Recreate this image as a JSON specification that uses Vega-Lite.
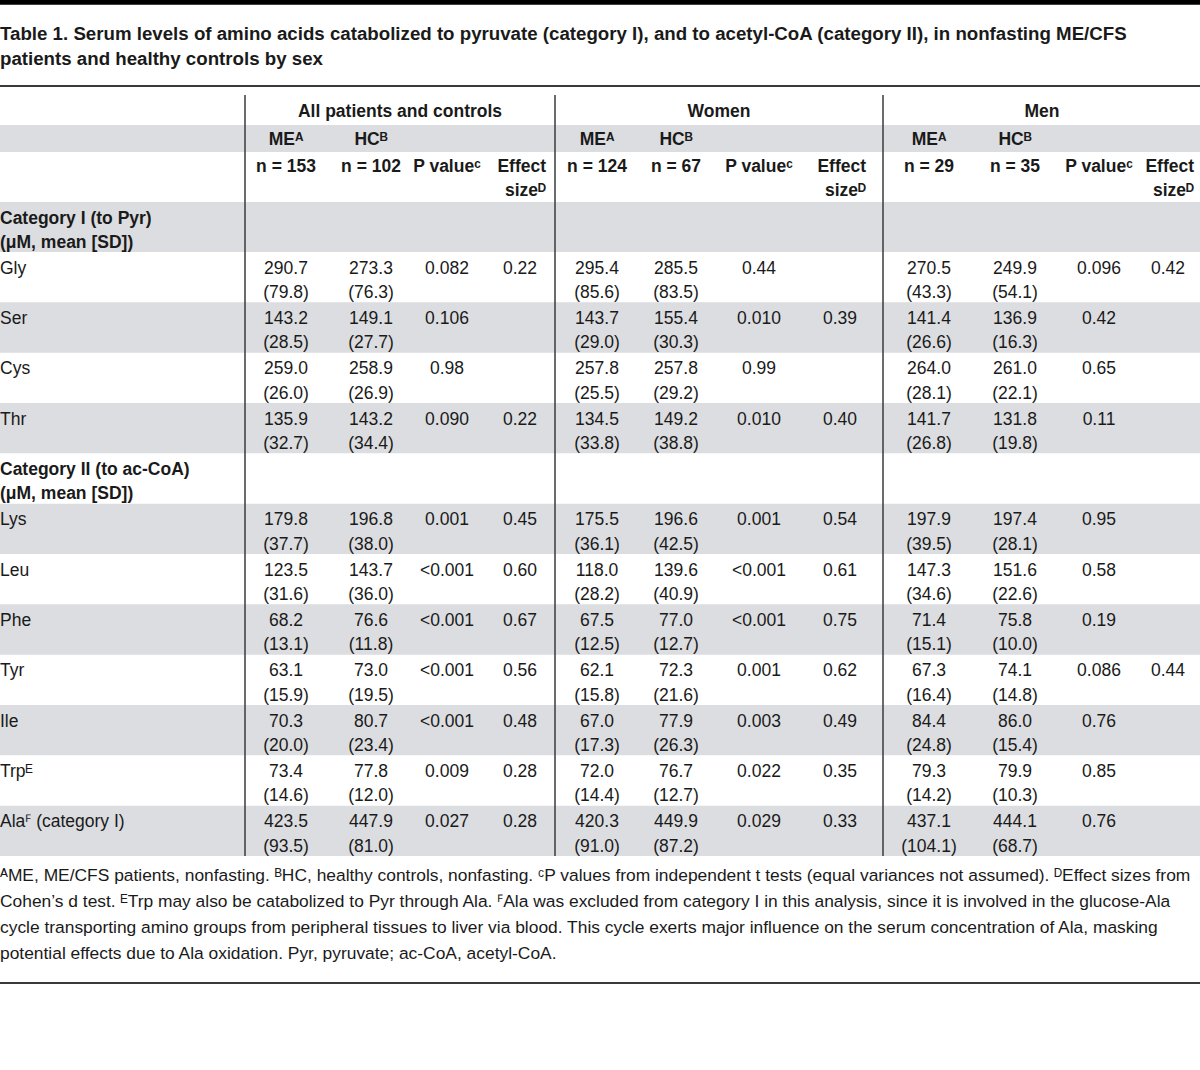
{
  "$schema": "https://vega.github.io/schema/vega-lite/v6.json",
  "width": 1200,
  "height": 1070,
  "autosize": "none",
  "padding": 0,
  "background": "white",
  "config": {"view": {"stroke": null}, "text": {"font": "Liberation Sans", "color": "#1a1a1a", "lineBreak": "\n"}},
  "datasets": {
    "bands": [{"r": 2, "r2": 3}, {"r": 4, "r2": 5}, {"r": 6, "r2": 7}, {"r": 8, "r2": 9}, {"r": 10, "r2": 11}, {"r": 12, "r2": 13}, {"r": 14, "r2": 15}, {"r": 16, "r2": 17}],
    "hrules": [{"r": 1}, {"r": 18}],
    "vrules": [{"c": 0.5}, {"c": 4.5}, {"c": 8.5}],
    "title": [{"t": "Table 1. Serum levels of amino acids catabolized to pyruvate (category I), and to acetyl-CoA (category II), in nonfasting ME/CFS\npatients and healthy controls by sex"}],
    "groups": [{"c": 2.5, "t": "All patients and controls"}, {"c": 6.5, "t": "Women"}, {"c": 10.5, "t": "Men"}],
    "subheads": [
      {"r": 2, "c": 1, "t": "MEᴬ"}, {"r": 2, "c": 2, "t": "HCᴮ"},
      {"r": 2, "c": 5, "t": "MEᴬ"}, {"r": 2, "c": 6, "t": "HCᴮ"},
      {"r": 2, "c": 9, "t": "MEᴬ"}, {"r": 2, "c": 10, "t": "HCᴮ"},
      {"r": 3, "c": 1, "t": "n = 153"}, {"r": 3, "c": 2, "t": "n = 102"}, {"r": 3, "c": 3, "t": "P valueᶜ"},
      {"r": 3, "c": 5, "t": "n = 124"}, {"r": 3, "c": 6, "t": "n = 67"}, {"r": 3, "c": 7, "t": "P valueᶜ"},
      {"r": 3, "c": 9, "t": "n = 29"}, {"r": 3, "c": 10, "t": "n = 35"}, {"r": 3, "c": 11, "t": "P valueᶜ"}
    ],
    "effects": [{"r": 3, "c": 4, "t": "Effect\nsizeᴰ"}, {"r": 3, "c": 8, "t": "Effect\nsizeᴰ"}, {"r": 3, "c": 12, "t": "Effect\nsizeᴰ"}],
    "categories": [{"r": 4, "t": "Category I (to Pyr)\n(μM, mean [SD])"}, {"r": 9, "t": "Category II (to ac-CoA)\n(μM, mean [SD])"}],
    "labels": [
      {"r": 5, "t": "Gly"}, {"r": 6, "t": "Ser"}, {"r": 7, "t": "Cys"}, {"r": 8, "t": "Thr"},
      {"r": 10, "t": "Lys"}, {"r": 11, "t": "Leu"}, {"r": 12, "t": "Phe"}, {"r": 13, "t": "Tyr"},
      {"r": 14, "t": "Ile"}, {"r": 15, "t": "Trpᴱ"}, {"r": 16, "t": "Alaꟳ (category I)"}
    ],
    "cells": [
      {"r": 5, "c": 1, "t": "290.7\n(79.8)"}, {"r": 5, "c": 2, "t": "273.3\n(76.3)"}, {"r": 5, "c": 3, "t": "0.082"}, {"r": 5, "c": 4, "t": "0.22"},
      {"r": 5, "c": 5, "t": "295.4\n(85.6)"}, {"r": 5, "c": 6, "t": "285.5\n(83.5)"}, {"r": 5, "c": 7, "t": "0.44"},
      {"r": 5, "c": 9, "t": "270.5\n(43.3)"}, {"r": 5, "c": 10, "t": "249.9\n(54.1)"}, {"r": 5, "c": 11, "t": "0.096"}, {"r": 5, "c": 12, "t": "0.42"},
      {"r": 6, "c": 1, "t": "143.2\n(28.5)"}, {"r": 6, "c": 2, "t": "149.1\n(27.7)"}, {"r": 6, "c": 3, "t": "0.106"},
      {"r": 6, "c": 5, "t": "143.7\n(29.0)"}, {"r": 6, "c": 6, "t": "155.4\n(30.3)"}, {"r": 6, "c": 7, "t": "0.010"}, {"r": 6, "c": 8, "t": "0.39"},
      {"r": 6, "c": 9, "t": "141.4\n(26.6)"}, {"r": 6, "c": 10, "t": "136.9\n(16.3)"}, {"r": 6, "c": 11, "t": "0.42"},
      {"r": 7, "c": 1, "t": "259.0\n(26.0)"}, {"r": 7, "c": 2, "t": "258.9\n(26.9)"}, {"r": 7, "c": 3, "t": "0.98"},
      {"r": 7, "c": 5, "t": "257.8\n(25.5)"}, {"r": 7, "c": 6, "t": "257.8\n(29.2)"}, {"r": 7, "c": 7, "t": "0.99"},
      {"r": 7, "c": 9, "t": "264.0\n(28.1)"}, {"r": 7, "c": 10, "t": "261.0\n(22.1)"}, {"r": 7, "c": 11, "t": "0.65"},
      {"r": 8, "c": 1, "t": "135.9\n(32.7)"}, {"r": 8, "c": 2, "t": "143.2\n(34.4)"}, {"r": 8, "c": 3, "t": "0.090"}, {"r": 8, "c": 4, "t": "0.22"},
      {"r": 8, "c": 5, "t": "134.5\n(33.8)"}, {"r": 8, "c": 6, "t": "149.2\n(38.8)"}, {"r": 8, "c": 7, "t": "0.010"}, {"r": 8, "c": 8, "t": "0.40"},
      {"r": 8, "c": 9, "t": "141.7\n(26.8)"}, {"r": 8, "c": 10, "t": "131.8\n(19.8)"}, {"r": 8, "c": 11, "t": "0.11"},
      {"r": 10, "c": 1, "t": "179.8\n(37.7)"}, {"r": 10, "c": 2, "t": "196.8\n(38.0)"}, {"r": 10, "c": 3, "t": "0.001"}, {"r": 10, "c": 4, "t": "0.45"},
      {"r": 10, "c": 5, "t": "175.5\n(36.1)"}, {"r": 10, "c": 6, "t": "196.6\n(42.5)"}, {"r": 10, "c": 7, "t": "0.001"}, {"r": 10, "c": 8, "t": "0.54"},
      {"r": 10, "c": 9, "t": "197.9\n(39.5)"}, {"r": 10, "c": 10, "t": "197.4\n(28.1)"}, {"r": 10, "c": 11, "t": "0.95"},
      {"r": 11, "c": 1, "t": "123.5\n(31.6)"}, {"r": 11, "c": 2, "t": "143.7\n(36.0)"}, {"r": 11, "c": 3, "t": "<0.001"}, {"r": 11, "c": 4, "t": "0.60"},
      {"r": 11, "c": 5, "t": "118.0\n(28.2)"}, {"r": 11, "c": 6, "t": "139.6\n(40.9)"}, {"r": 11, "c": 7, "t": "<0.001"}, {"r": 11, "c": 8, "t": "0.61"},
      {"r": 11, "c": 9, "t": "147.3\n(34.6)"}, {"r": 11, "c": 10, "t": "151.6\n(22.6)"}, {"r": 11, "c": 11, "t": "0.58"},
      {"r": 12, "c": 1, "t": "68.2\n(13.1)"}, {"r": 12, "c": 2, "t": "76.6\n(11.8)"}, {"r": 12, "c": 3, "t": "<0.001"}, {"r": 12, "c": 4, "t": "0.67"},
      {"r": 12, "c": 5, "t": "67.5\n(12.5)"}, {"r": 12, "c": 6, "t": "77.0\n(12.7)"}, {"r": 12, "c": 7, "t": "<0.001"}, {"r": 12, "c": 8, "t": "0.75"},
      {"r": 12, "c": 9, "t": "71.4\n(15.1)"}, {"r": 12, "c": 10, "t": "75.8\n(10.0)"}, {"r": 12, "c": 11, "t": "0.19"},
      {"r": 13, "c": 1, "t": "63.1\n(15.9)"}, {"r": 13, "c": 2, "t": "73.0\n(19.5)"}, {"r": 13, "c": 3, "t": "<0.001"}, {"r": 13, "c": 4, "t": "0.56"},
      {"r": 13, "c": 5, "t": "62.1\n(15.8)"}, {"r": 13, "c": 6, "t": "72.3\n(21.6)"}, {"r": 13, "c": 7, "t": "0.001"}, {"r": 13, "c": 8, "t": "0.62"},
      {"r": 13, "c": 9, "t": "67.3\n(16.4)"}, {"r": 13, "c": 10, "t": "74.1\n(14.8)"}, {"r": 13, "c": 11, "t": "0.086"}, {"r": 13, "c": 12, "t": "0.44"},
      {"r": 14, "c": 1, "t": "70.3\n(20.0)"}, {"r": 14, "c": 2, "t": "80.7\n(23.4)"}, {"r": 14, "c": 3, "t": "<0.001"}, {"r": 14, "c": 4, "t": "0.48"},
      {"r": 14, "c": 5, "t": "67.0\n(17.3)"}, {"r": 14, "c": 6, "t": "77.9\n(26.3)"}, {"r": 14, "c": 7, "t": "0.003"}, {"r": 14, "c": 8, "t": "0.49"},
      {"r": 14, "c": 9, "t": "84.4\n(24.8)"}, {"r": 14, "c": 10, "t": "86.0\n(15.4)"}, {"r": 14, "c": 11, "t": "0.76"},
      {"r": 15, "c": 1, "t": "73.4\n(14.6)"}, {"r": 15, "c": 2, "t": "77.8\n(12.0)"}, {"r": 15, "c": 3, "t": "0.009"}, {"r": 15, "c": 4, "t": "0.28"},
      {"r": 15, "c": 5, "t": "72.0\n(14.4)"}, {"r": 15, "c": 6, "t": "76.7\n(12.7)"}, {"r": 15, "c": 7, "t": "0.022"}, {"r": 15, "c": 8, "t": "0.35"},
      {"r": 15, "c": 9, "t": "79.3\n(14.2)"}, {"r": 15, "c": 10, "t": "79.9\n(10.3)"}, {"r": 15, "c": 11, "t": "0.85"},
      {"r": 16, "c": 1, "t": "423.5\n(93.5)"}, {"r": 16, "c": 2, "t": "447.9\n(81.0)"}, {"r": 16, "c": 3, "t": "0.027"}, {"r": 16, "c": 4, "t": "0.28"},
      {"r": 16, "c": 5, "t": "420.3\n(91.0)"}, {"r": 16, "c": 6, "t": "449.9\n(87.2)"}, {"r": 16, "c": 7, "t": "0.029"}, {"r": 16, "c": 8, "t": "0.33"},
      {"r": 16, "c": 9, "t": "437.1\n(104.1)"}, {"r": 16, "c": 10, "t": "444.1\n(68.7)"}, {"r": 16, "c": 11, "t": "0.76"}
    ],
    "footnote": [{"t": "ᴬME, ME/CFS patients, nonfasting. ᴮHC, healthy controls, nonfasting. ᶜP values from independent t tests (equal variances not assumed). ᴰEffect sizes from\nCohen’s d test. ᴱTrp may also be catabolized to Pyr through Ala. ꟳAla was excluded from category I in this analysis, since it is involved in the glucose-Ala\ncycle transporting amino groups from peripheral tissues to liver via blood. This cycle exerts major influence on the serum concentration of Ala, masking\npotential effects due to Ala oxidation. Pyr, pyruvate; ac-CoA, acetyl-CoA."}]
  },
  "layer": [
    {
      "data": {"name": "bands"},
      "mark": {"type": "rect", "color": "#dcdde0"},
      "encoding": {
        "x": {"datum": 0, "type": "quantitative", "scale": {"domain": [0, 0.5, 1, 2, 2.5, 3, 4, 4.5, 5, 6, 6.5, 7, 8, 8.5, 9, 10, 10.5, 11, 12, 13], "range": [0, 245, 286, 371, 400, 447, 520, 555, 597, 676, 719, 759, 840, 883, 929, 1015, 1042, 1099, 1168, 1200], "zero": false, "nice": false}, "axis": null},
        "x2": {"datum": 13},
        "y": {"field": "r", "type": "quantitative", "scale": {"domain": [0, 1, 1.5, 2, 3, 4, 5, 6, 7, 8, 9, 10, 11, 12, 13, 14, 15, 16, 17, 18, 19], "range": [0, 86, 95, 125, 152, 202, 252, 302.3, 352.7, 403, 453.3, 503.7, 554, 604.3, 654.7, 705, 755.3, 805.7, 856, 983, 1070], "zero": false, "nice": false}, "axis": null},
        "y2": {"field": "r2"}
      }
    },
    {
      "data": {"values": [{}]},
      "mark": {"type": "rect", "color": "#000000"},
      "encoding": {
        "x": {"datum": 0, "type": "quantitative"},
        "x2": {"datum": 13},
        "y": {"datum": 0, "type": "quantitative"},
        "y2": {"datum": 0.055}
      }
    },
    {
      "data": {"name": "hrules"},
      "mark": {"type": "rule", "color": "#3a3a3a", "strokeWidth": 2},
      "encoding": {
        "x": {"datum": 0, "type": "quantitative"},
        "x2": {"datum": 13},
        "y": {"field": "r", "type": "quantitative"}
      }
    },
    {
      "data": {"name": "vrules"},
      "mark": {"type": "rule", "color": "#3a3a3a", "strokeWidth": 1.5},
      "encoding": {
        "x": {"field": "c", "type": "quantitative"},
        "y": {"datum": 1.5, "type": "quantitative"},
        "y2": {"datum": 17}
      }
    },
    {
      "data": {"name": "title"},
      "mark": {"type": "text", "align": "left", "baseline": "alphabetic", "dy": 40, "fontSize": 18.7, "fontWeight": "bold", "lineHeight": 25},
      "encoding": {
        "x": {"datum": 0, "type": "quantitative"},
        "y": {"datum": 0, "type": "quantitative"},
        "text": {"field": "t"}
      }
    },
    {
      "data": {"name": "groups"},
      "mark": {"type": "text", "align": "center", "baseline": "alphabetic", "dy": 31, "fontSize": 17.5, "fontWeight": "bold"},
      "encoding": {
        "x": {"field": "c", "type": "quantitative"},
        "y": {"datum": 1, "type": "quantitative"},
        "text": {"field": "t"}
      }
    },
    {
      "data": {"name": "subheads"},
      "mark": {"type": "text", "align": "center", "baseline": "alphabetic", "dy": 19.5, "fontSize": 17.5, "fontWeight": "bold"},
      "encoding": {
        "x": {"field": "c", "type": "quantitative"},
        "y": {"field": "r", "type": "quantitative"},
        "text": {"field": "t"}
      }
    },
    {
      "data": {"name": "effects"},
      "mark": {"type": "text", "align": "right", "baseline": "alphabetic", "dx": 26, "dy": 19.5, "fontSize": 17.5, "fontWeight": "bold", "lineHeight": 24},
      "encoding": {
        "x": {"field": "c", "type": "quantitative"},
        "y": {"field": "r", "type": "quantitative"},
        "text": {"field": "t"}
      }
    },
    {
      "data": {"name": "categories"},
      "mark": {"type": "text", "align": "left", "baseline": "alphabetic", "dy": 21.5, "fontSize": 17.5, "fontWeight": "bold", "lineHeight": 24.5},
      "encoding": {
        "x": {"datum": 0, "type": "quantitative"},
        "y": {"field": "r", "type": "quantitative"},
        "text": {"field": "t"}
      }
    },
    {
      "data": {"name": "labels"},
      "mark": {"type": "text", "align": "left", "baseline": "alphabetic", "dy": 21.5, "fontSize": 17.5},
      "encoding": {
        "x": {"datum": 0, "type": "quantitative"},
        "y": {"field": "r", "type": "quantitative"},
        "text": {"field": "t"}
      }
    },
    {
      "data": {"name": "cells"},
      "mark": {"type": "text", "align": "center", "baseline": "alphabetic", "dy": 21.5, "fontSize": 17.5, "lineHeight": 24.5},
      "encoding": {
        "x": {"field": "c", "type": "quantitative"},
        "y": {"field": "r", "type": "quantitative"},
        "text": {"field": "t"}
      }
    },
    {
      "data": {"name": "footnote"},
      "mark": {"type": "text", "align": "left", "baseline": "alphabetic", "dy": 25, "fontSize": 17.4, "lineHeight": 26},
      "encoding": {
        "x": {"datum": 0, "type": "quantitative"},
        "y": {"datum": 17, "type": "quantitative"},
        "text": {"field": "t"}
      }
    }
  ]
}
